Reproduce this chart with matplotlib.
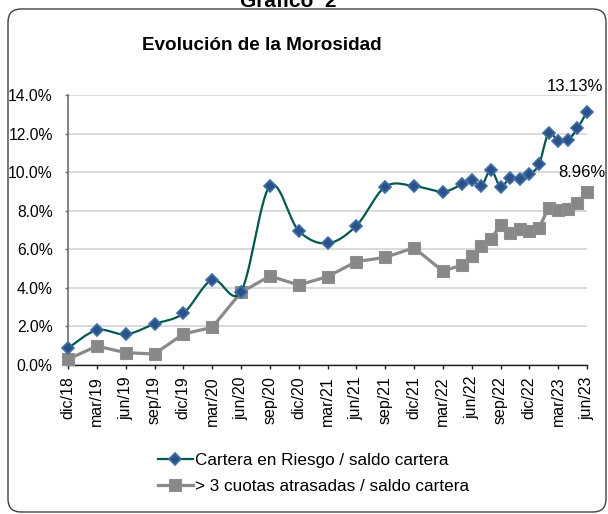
import numpy as np
import pandas as pd
import matplotlib
matplotlib.use("Agg")
import matplotlib.pyplot as plt
from matplotlib.patches import FancyBboxPatch

plt.rcParams['font.family'] = ['Liberation Sans', 'DejaVu Sans']

# ---------------- data ----------------
dates = ["2018-12", "2019-03", "2019-06", "2019-09", "2019-12", "2020-03", "2020-06",
         "2020-09", "2020-12", "2021-03", "2021-06", "2021-09", "2021-12", "2022-03",
         "2022-05", "2022-06", "2022-07", "2022-08", "2022-09", "2022-10", "2022-11",
         "2022-12", "2023-01", "2023-02", "2023-03", "2023-04", "2023-05", "2023-06"]

cartera_riesgo = [0.87, 1.81, 1.59, 2.13, 2.68, 4.41, 3.80, 9.28, 6.96, 6.31, 7.22, 9.24,
                  9.28, 8.99, 9.38, 9.59, 9.28, 10.11, 9.24, 9.71, 9.62, 9.88, 10.40,
                  12.01, 11.61, 11.66, 12.27, 13.13]

cuotas_atrasadas = [0.30, 0.98, 0.64, 0.57, 1.61, 1.95, 3.77, 4.61, 4.15, 4.58, 5.36, 5.58,
                    6.08, 4.87, 5.18, 5.65, 6.18, 6.53, 7.26, 6.83, 7.05, 6.96, 7.09,
                    8.16, 8.04, 8.07, 8.41, 8.96]

tick_labels = ["dic/18", "mar/19", "jun/19", "sep/19", "dic/19", "mar/20", "jun/20",
               "sep/20", "dic/20", "mar/21", "jun/21", "sep/21", "dic/21", "mar/22",
               "jun/22", "sep/22", "dic/22", "mar/23", "jun/23"]

series_labels = ["Cartera en Riesgo / saldo cartera", "> 3 cuotas atrasadas / saldo cartera"]
title = "Evolución de la Morosidad"
header = "Gráfico  2"

# ---------------- helpers ----------------
per = pd.PeriodIndex(dates, freq="M")
x = np.array([(p - per[0]).n for p in per], dtype=float)


def smooth(xv, yv, n=30):
    """Excel-like smoothed line (Catmull-Rom Bezier)."""
    xv = np.asarray(xv, float)
    yv = np.asarray(yv, float)
    pts = np.column_stack([xv, yv])
    out = []
    t = np.linspace(0, 1, n)[:, None]
    for i in range(len(pts) - 1):
        p0 = pts[i - 1] if i > 0 else pts[i]
        p1 = pts[i]
        p2 = pts[i + 1]
        p3 = pts[i + 2] if i + 2 < len(pts) else pts[i + 1]
        c1 = p1 + (p2 - p0) / 6.0
        c2 = p2 - (p3 - p1) / 6.0
        b = ((1 - t) ** 3) * p1 + 3 * ((1 - t) ** 2) * t * c1 + 3 * (1 - t) * t ** 2 * c2 + t ** 3 * p2
        out.append(b if i == 0 else b[1:])
    arr = np.vstack(out)
    return arr[:, 0], arr[:, 1]


# ---------------- figure ----------------
W, H = 608, 514
fig = plt.figure(figsize=(W / 100, H / 100), dpi=100)

# outer rounded frame
frame = FancyBboxPatch((8 / 100, 2 / 100), (606 - 8) / 100, (505 - 2) / 100,
                       boxstyle="round,pad=0,rounding_size=0.13",
                       transform=fig.dpi_scale_trans, facecolor="none",
                       edgecolor="#404040", linewidth=1.0, zorder=-5)
fig.patches.append(frame)

fig.text(288 / W, 1 - 7 / H, header, ha="center", va="baseline",
         fontsize=15, fontweight="bold", color="black")
fig.text(262 / W, 1 - 46 / H, title, ha="center", va="center",
         fontsize=13.6, fontweight="bold", color="black")

ax = fig.add_axes([68 / W, 1 - 365 / H, (587 - 68) / W, (365 - 95) / H])
ax.set_facecolor("none")

green_line = "#005A4B"
diamond_fill = "#2C5185"
diamond_edge = "#3E6EA8"
gray = "#8A8A8A"

# series 2 (gray, straight)
ax.plot(x, cuotas_atrasadas, color=gray, lw=2.3, zorder=3, clip_on=False)
ax.plot(x, cuotas_atrasadas, ls="none", marker="s", ms=8.3, mfc="#888888",
        mec="#8F8F8F", mew=0.8, zorder=4, clip_on=False)

# series 1 (green smoothed)
sx, sy = smooth(x, cartera_riesgo)
ax.plot(sx, sy, color=green_line, lw=1.6, zorder=5, clip_on=False)
ax.plot(x, cartera_riesgo, ls="none", marker="D", ms=6.6, mfc=diamond_fill,
        mec=diamond_edge, mew=1.2, zorder=6, clip_on=False)

# annotations of last values
ax.annotate(f"{cartera_riesgo[-1]:.2f}%", (x[-1], cartera_riesgo[-1]),
            xytext=(-9, 18), textcoords="offset points", ha="center", va="center",
            fontsize=12, color="black")
ax.annotate(f"{cuotas_atrasadas[-1]:.2f}%", (x[-1], cuotas_atrasadas[-1]),
            xytext=(-4, 14.5), textcoords="offset points", ha="center", va="center",
            fontsize=12, color="black")

# axes styling
ax.set_xlim(x[0], x[0] + 3 * (len(tick_labels) - 1))
ax.set_ylim(0, 14)
ax.set_yticks(np.arange(0, 14.01, 2))
ax.set_yticklabels([f"{v:.1f}%" for v in np.arange(0, 14.01, 2)])
ax.set_xticks(np.arange(len(tick_labels)) * 3)
ax.set_xticklabels(tick_labels, rotation=90)

ax.grid(axis="y", color="#D4D4D4", lw=1.2, zorder=0)
ax.set_axisbelow(True)
for s in ["top", "right"]:
    ax.spines[s].set_visible(False)
ax.spines["left"].set_color("#6E6E6E")
ax.spines["left"].set_linewidth(1.2)
ax.spines["bottom"].set_color("#202020")
ax.spines["bottom"].set_linewidth(1.0)

ax.tick_params(axis="y", length=2.5, width=1, color="#6E6E6E", pad=8.5,
               labelsize=11.3, labelcolor="black")
ax.tick_params(axis="x", length=3, width=1, color="#202020", pad=5,
               labelsize=11.5, labelcolor="black")

handles = [
    plt.Line2D([], [], color=green_line, lw=1.6, marker="D", ms=6.6,
               mfc=diamond_fill, mec=diamond_edge, mew=1.2),
    plt.Line2D([], [], color=gray, lw=2.3, marker="s", ms=8.3,
               mfc="#888888", mec="#8F8F8F", mew=0.8),
]
fig.legend(handles, series_labels, loc="upper left",
           bbox_to_anchor=(155 / W, 1 - 450 / H), frameon=False,
           fontsize=12.3, handlelength=2.0, handletextpad=0.15,
           labelspacing=0.62, borderpad=0.2, borderaxespad=0)

fig.savefig("out.png", dpi=100)
